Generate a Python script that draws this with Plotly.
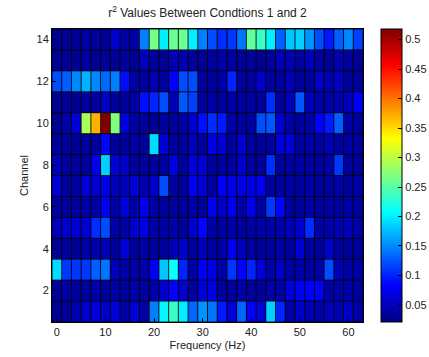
import plotly.graph_objects as go

freqs = list(range(0, 64, 2))
channels = list(range(1, 15))

ch1 = [0.033, 0.035, 0.046, 0.058, 0.064, 0.055, 0.064, 0.040, 0.064, 0.040, 0.145, 0.205, 0.235, 0.200, 0.133, 0.155,
       0.140, 0.095, 0.064, 0.133, 0.083, 0.064, 0.185, 0.100, 0.040, 0.058, 0.046, 0.040, 0.052, 0.046, 0.058, 0.040]
ch2 = [0.035, 0.040, 0.035, 0.035, 0.040, 0.035, 0.040, 0.035, 0.040, 0.035, 0.040, 0.058, 0.083, 0.058, 0.035, 0.064,
       0.070, 0.035, 0.035, 0.040, 0.035, 0.035, 0.040, 0.040, 0.064, 0.077, 0.083, 0.077, 0.040, 0.040, 0.040, 0.035]
ch3 = [0.190, 0.110, 0.110, 0.110, 0.130, 0.140, 0.050, 0.040, 0.040, 0.040, 0.080, 0.180, 0.210, 0.100, 0.040, 0.080,
       0.070, 0.040, 0.110, 0.085, 0.100, 0.065, 0.040, 0.055, 0.040, 0.040, 0.035, 0.040, 0.120, 0.050, 0.040, 0.040]
ch4 = [0.035, 0.035, 0.030, 0.040, 0.040, 0.050, 0.035, 0.065, 0.035, 0.040, 0.035, 0.035, 0.050, 0.058, 0.035, 0.050,
       0.035, 0.040, 0.075, 0.050, 0.035, 0.035, 0.035, 0.040, 0.035, 0.064, 0.035, 0.035, 0.058, 0.035, 0.035, 0.035]
ch5 = [0.050, 0.060, 0.060, 0.060, 0.105, 0.120, 0.040, 0.040, 0.060, 0.070, 0.040, 0.040, 0.040, 0.035, 0.058, 0.085,
       0.040, 0.035, 0.040, 0.035, 0.040, 0.040, 0.040, 0.040, 0.050, 0.058, 0.105, 0.040, 0.040, 0.045, 0.050, 0.040]
ch6 = [0.040, 0.035, 0.035, 0.040, 0.040, 0.080, 0.040, 0.070, 0.040, 0.075, 0.040, 0.035, 0.035, 0.035, 0.040, 0.035,
       0.077, 0.055, 0.075, 0.040, 0.077, 0.040, 0.110, 0.085, 0.035, 0.035, 0.040, 0.035, 0.040, 0.035, 0.040, 0.035]
ch7 = [0.064, 0.035, 0.035, 0.064, 0.058, 0.070, 0.050, 0.052, 0.064, 0.045, 0.058, 0.120, 0.035, 0.035, 0.077, 0.064,
       0.035, 0.077, 0.070, 0.070, 0.070, 0.077, 0.035, 0.035, 0.040, 0.035, 0.040, 0.035, 0.035, 0.040, 0.035, 0.040]
ch8 = [0.050, 0.035, 0.035, 0.035, 0.075, 0.185, 0.064, 0.058, 0.035, 0.035, 0.035, 0.035, 0.070, 0.035, 0.064, 0.064,
       0.035, 0.035, 0.035, 0.058, 0.035, 0.035, 0.105, 0.035, 0.035, 0.040, 0.035, 0.035, 0.040, 0.110, 0.035, 0.035]
ch9 = [0.035, 0.035, 0.030, 0.035, 0.035, 0.085, 0.035, 0.035, 0.040, 0.035, 0.190, 0.064, 0.035, 0.035, 0.050, 0.035,
       0.070, 0.060, 0.035, 0.058, 0.035, 0.035, 0.035, 0.064, 0.064, 0.035, 0.040, 0.035, 0.050, 0.035, 0.040, 0.035]
ch10 = [0.035, 0.040, 0.065, 0.290, 0.370, 0.518, 0.270, 0.070, 0.040, 0.035, 0.030, 0.035, 0.035, 0.040, 0.058, 0.090,
        0.105, 0.095, 0.040, 0.035, 0.040, 0.120, 0.125, 0.060, 0.040, 0.035, 0.040, 0.083, 0.095, 0.130, 0.040, 0.035]
ch11 = [0.030, 0.033, 0.030, 0.035, 0.035, 0.055, 0.035, 0.035, 0.040, 0.090, 0.100, 0.120, 0.045, 0.125, 0.115, 0.035,
        0.040, 0.035, 0.040, 0.035, 0.040, 0.035, 0.105, 0.035, 0.050, 0.125, 0.050, 0.040, 0.040, 0.045, 0.050, 0.080]
ch12 = [0.120, 0.130, 0.150, 0.170, 0.150, 0.135, 0.145, 0.090, 0.040, 0.035, 0.045, 0.035, 0.083, 0.120, 0.120, 0.035,
        0.035, 0.040, 0.100, 0.035, 0.035, 0.058, 0.035, 0.035, 0.050, 0.035, 0.035, 0.055, 0.045, 0.055, 0.035, 0.035]
ch13 = [0.030, 0.033, 0.030, 0.036, 0.030, 0.033, 0.030, 0.035, 0.030, 0.050, 0.035, 0.030, 0.045, 0.045, 0.035, 0.030,
        0.035, 0.040, 0.035, 0.030, 0.035, 0.030, 0.035, 0.045, 0.045, 0.035, 0.050, 0.035, 0.030, 0.045, 0.035, 0.030]
ch14 = [0.030, 0.030, 0.033, 0.040, 0.035, 0.033, 0.060, 0.040, 0.040, 0.145, 0.265, 0.200, 0.260, 0.260, 0.200, 0.145,
        0.120, 0.105, 0.110, 0.140, 0.255, 0.235, 0.200, 0.130, 0.180, 0.185, 0.155, 0.120, 0.095, 0.130, 0.150, 0.115]

z = [ch1, ch2, ch3, ch4, ch5, ch6, ch7, ch8, ch9, ch10, ch11, ch12, ch13, ch14]

cbar_vals = [0.05, 0.1, 0.15, 0.2, 0.25, 0.3, 0.35, 0.4, 0.45, 0.5]
cbar_text = ["0.05", "0.1", "0.15", "0.2", "0.25", "0.3", "0.35", "0.4", "0.45", "0.5"]
x_ticks = [0, 10, 20, 30, 40, 50, 60]
y_ticks = [2, 4, 6, 8, 10, 12, 14]

jet = [
    [0.0, "rgb(0,0,128)"],
    [0.125, "rgb(0,0,255)"],
    [0.375, "rgb(0,255,255)"],
    [0.625, "rgb(255,255,0)"],
    [0.875, "rgb(255,0,0)"],
    [1.0, "rgb(128,0,0)"],
]

FONT = "Liberation Sans, Arial, sans-serif"
TXT = "#222"

fig = go.Figure(
    go.Heatmap(
        x=freqs, y=channels, z=z,
        colorscale=jet, zmin=0.021, zmax=0.518,
        colorbar=dict(
            x=1.058, xanchor="left", xpad=0,
            y=0.5, yanchor="middle", len=1.0, lenmode="fraction", ypad=0,
            thickness=21, thicknessmode="pixels",
            outlinewidth=1, outlinecolor="black",
            tickvals=cbar_vals, ticktext=cbar_text,
            ticks="inside", ticklen=4, tickcolor="black",
            tickfont=dict(family=FONT, size=11, color=TXT),
        ),
    )
)

# cell edge lines (pcolor-style black edges), derived from the cell centres
half_w = (freqs[1] - freqs[0]) / 2
x_edges = [f - half_w for f in freqs] + [freqs[-1] + half_w]
y_edges = [c - 0.5 for c in channels] + [channels[-1] + 0.5]
edge_style = dict(color="rgba(0,0,0,0.85)", width=1)
shapes = []
for xe in x_edges:
    shapes.append(dict(type="line", xref="x", yref="y", x0=xe, x1=xe,
                       y0=y_edges[0], y1=y_edges[-1], line=edge_style, layer="above"))
for ye in y_edges:
    shapes.append(dict(type="line", xref="x", yref="y", x0=x_edges[0], x1=x_edges[-1],
                       y0=ye, y1=ye, line=edge_style, layer="above"))

fig.update_layout(
    width=429, height=357,
    margin=dict(l=52, r=66, t=29, b=35, autoexpand=False),
    paper_bgcolor="white",
    plot_bgcolor="white",
    shapes=shapes,
    title=dict(
        text="r<sup>2</sup> Values Between Condtions 1 and 2",
        x=(52 + 363) / 2 / 429, xanchor="center",
        y=1 - 13 / 357, yanchor="middle",
        font=dict(family=FONT, size=12, color=TXT),
    ),
    font=dict(family=FONT, size=11, color=TXT),
)
fig.update_xaxes(
    range=[-1, 63], tickvals=x_ticks, ticks="inside", ticklen=4, tickcolor="black",
    showline=True, linecolor="black", linewidth=1, mirror=True,
    showgrid=False, zeroline=False, automargin=False,
    title=dict(text="Frequency (Hz)", standoff=4, font=dict(family=FONT, size=11, color=TXT)),
    tickfont=dict(family=FONT, size=11, color=TXT),
)
fig.update_yaxes(
    range=[0.5, 14.5], tickvals=y_ticks, ticks="inside", ticklen=4, tickcolor="black",
    showline=True, linecolor="black", linewidth=1, mirror=True,
    showgrid=False, zeroline=False, automargin=False,
    title=dict(text="Channel", standoff=5, font=dict(family=FONT, size=11, color=TXT)),
    tickfont=dict(family=FONT, size=11, color=TXT),
)

fig.write_html("out.html", config={"displayModeBar": False},
               post_script="document.body.style.margin='0';")
